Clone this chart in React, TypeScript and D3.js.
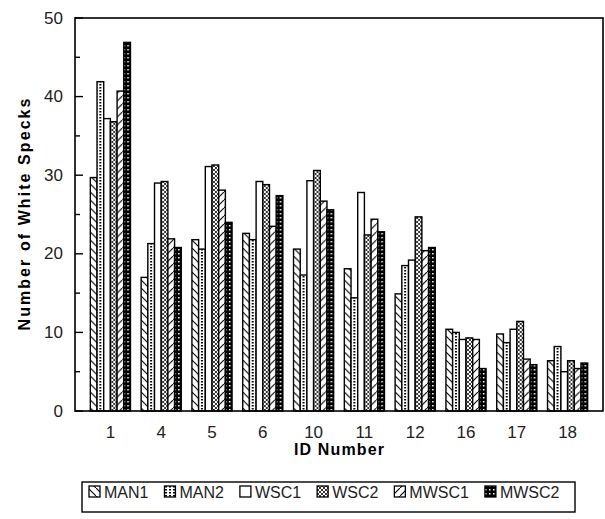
import React, { useMemo } from "react"
import * as d3 from "d3"

// ── Data ───────────────────────────────────────────────────────────────────────

const CATEGORIES = ["1", "4", "5", "6", "10", "11", "12", "16", "17", "18"]
const SERIES = ["MAN1", "MAN2", "WSC1", "WSC2", "MWSC1", "MWSC2"]

const MAN1 = [29.7, 17.0, 21.8, 22.6, 20.6, 18.1, 14.9, 10.4, 9.8, 6.4]
const MAN2 = [41.9, 21.3, 20.6, 21.8, 17.3, 14.4, 18.5, 10.0, 8.7, 8.2]
const WSC1 = [37.2, 29.0, 31.1, 29.2, 29.3, 27.8, 19.2, 9.1, 10.4, 5.0]
const WSC2 = [36.8, 29.2, 31.3, 28.8, 30.6, 22.4, 24.7, 9.3, 11.4, 6.4]
const MWSC1 = [40.7, 21.9, 28.1, 23.5, 26.7, 24.4, 20.4, 9.1, 6.6, 5.4]
const MWSC2 = [46.9, 20.8, 24.0, 27.4, 25.6, 22.8, 20.8, 5.4, 5.9, 6.1]

const VALUES: Record<string, number[]> = { MAN1, MAN2, WSC1, WSC2, MWSC1, MWSC2 }

const Y_MAJOR = [0, 10, 20, 30, 40, 50]
const Y_MINOR = [5, 15, 25, 35, 45]

const X_TITLE = "ID Number"
const Y_TITLE = "Number of White Specks"

// ── Layout ─────────────────────────────────────────────────────────────────────

const W = 605
const H = 519
const plot = { left: 75, right: 603, top: 18, bottom: 411 }
const FONT = "'Liberation Sans', Arial, sans-serif"

function textWidth(str: string, size: number, weight = "normal") {
  const c = document.createElement("canvas").getContext("2d")
  if (!c) return str.length * size * 0.6
  c.font = `${weight} ${size}px ${FONT}`
  return c.measureText(str).width
}

const Patterns = () => (
  <defs>
    <pattern id="p-MAN1" patternUnits="userSpaceOnUse" width={8} height={8}>
      <rect width={8} height={8} fill="#fff" />
      <path d="M0,0 L8,8" stroke="#000" strokeWidth={1.1} />
    </pattern>
    <pattern id="p-MAN2" patternUnits="userSpaceOnUse" width={4} height={3}>
      <rect width={4} height={3} fill="#fff" />
      <rect x={1} y={0} width={2} height={1.5} fill="#000" />
    </pattern>
    <pattern id="p-WSC1" patternUnits="userSpaceOnUse" width={4} height={4}>
      <rect width={4} height={4} fill="#fff" />
    </pattern>
    <pattern id="p-WSC2" patternUnits="userSpaceOnUse" width={4} height={4}>
      <rect width={4} height={4} fill="#fff" />
      <path d="M0,0 L4,4 M4,0 L0,4" stroke="#000" strokeWidth={0.8} />
    </pattern>
    <pattern id="p-MWSC1" patternUnits="userSpaceOnUse" width={8} height={8}>
      <rect width={8} height={8} fill="#fff" />
      <path d="M0,8 L8,0" stroke="#000" strokeWidth={1.1} />
    </pattern>
    <pattern id="p-MWSC2" patternUnits="userSpaceOnUse" width={4} height={4}>
      <rect width={4} height={4} fill="#000" />
      <rect x={1} y={1} width={1.5} height={1.5} fill="#fff" />
    </pattern>
  </defs>
)

export default function App() {
  const x = useMemo(
    () =>
      d3
        .scaleBand<string>()
        .domain(CATEGORIES)
        .range([85, 593])
        .paddingInner(0.21)
        .paddingOuter(0.105),
    [],
  )
  const xSub = useMemo(
    () => d3.scaleBand<string>().domain(SERIES).range([0, x.bandwidth()]),
    [x],
  )
  const y = useMemo(
    () => d3.scaleLinear().domain([0, 50]).range([plot.bottom, plot.top]),
    [],
  )

  // legend flow layout
  const legend = useMemo(() => {
    const items: { name: string; x: number }[] = []
    let cx = 89
    for (const s of SERIES) {
      items.push({ name: s, x: cx })
      cx += 15 + textWidth(s, 16) + 16
    }
    return items
  }, [])

  return (
    <div style={{ position: "fixed", left: 0, top: 0 }}>
      <svg width={W} height={H} style={{ display: "block", background: "#fff" }}>
        <Patterns />

        {/* Bars */}
        {CATEGORIES.map((cat, i) => (
          <g key={cat} transform={`translate(${x(cat)},0)`}>
            {SERIES.map(s => {
              const v = VALUES[s][i]
              return (
                <rect
                  key={s}
                  x={xSub(s)}
                  y={y(v)}
                  width={xSub.bandwidth()}
                  height={y(0) - y(v)}
                  fill={`url(#p-${s})`}
                  stroke="#000"
                  strokeWidth={1.4}
                />
              )
            })}
          </g>
        ))}

        {/* Frame */}
        <rect
          x={plot.left}
          y={plot.top}
          width={plot.right - plot.left}
          height={plot.bottom - plot.top}
          fill="none"
          stroke="#000"
          strokeWidth={1.6}
        />

        {/* Y ticks (inside) */}
        {Y_MAJOR.map(t => (
          <g key={t}>
            <line
              x1={plot.left}
              x2={plot.left + 8}
              y1={y(t)}
              y2={y(t)}
              stroke="#000"
              strokeWidth={1.4}
            />
            <text
              x={63}
              y={y(t)}
              textAnchor="end"
              dominantBaseline="central"
              fontFamily={FONT}
              fontSize={17}
              fill="#222"
            >
              {t}
            </text>
          </g>
        ))}
        {Y_MINOR.map(t => (
          <line
            key={t}
            x1={plot.left}
            x2={plot.left + 5}
            y1={y(t)}
            y2={y(t)}
            stroke="#000"
            strokeWidth={1.4}
          />
        ))}

        {/* X labels */}
        {CATEGORIES.map(cat => (
          <text
            key={cat}
            x={(x(cat) ?? 0) + x.bandwidth() / 2}
            y={432}
            textAnchor="middle"
            dominantBaseline="central"
            fontFamily={FONT}
            fontSize={17}
            fill="#222"
          >
            {cat}
          </text>
        ))}

        {/* Axis titles */}
        <text
          x={339}
          y={449}
          textAnchor="middle"
          dominantBaseline="central"
          fontFamily={FONT}
          fontSize={16}
          fontWeight="bold"
          textLength={90}
          lengthAdjust="spacing"
        >
          {X_TITLE}
        </text>
        <text
          transform={`translate(24,${(plot.top + plot.bottom) / 2}) rotate(-90)`}
          textAnchor="middle"
          dominantBaseline="central"
          fontFamily={FONT}
          fontSize={16}
          fontWeight="bold"
          textLength={232}
          lengthAdjust="spacing"
        >
          {Y_TITLE}
        </text>

        {/* Legend */}
        <rect
          x={82}
          y={482}
          width={493}
          height={30}
          fill="none"
          stroke="#000"
          strokeWidth={1.4}
        />
        {legend.map(({ name, x: lx }) => (
          <g key={name}>
            <rect
              x={lx}
              y={486}
              width={11}
              height={11}
              fill={`url(#p-${name})`}
              stroke="#000"
              strokeWidth={1.3}
            />
            <text
              x={lx + 15}
              y={492}
              dominantBaseline="central"
              fontFamily={FONT}
              fontSize={16}
              fill="#222"
            >
              {name}
            </text>
          </g>
        ))}
      </svg>
    </div>
  )
}
